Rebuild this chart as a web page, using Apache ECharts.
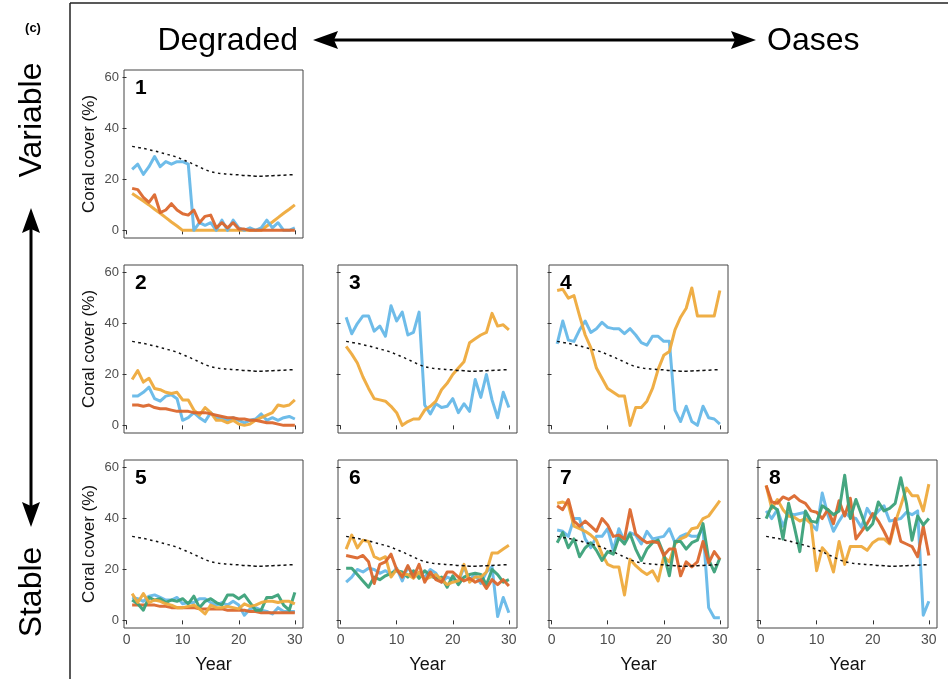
<!DOCTYPE html>
<html>
<head>
<meta charset="utf-8">
<script src="https://cdn.jsdelivr.net/npm/echarts@6/dist/echarts.min.js"></script>
<style>
    html, body { margin: 0; padding: 0; background: #fff; }
    #chart { width: 948px; height: 679px; }
</style>
</head>
<body>
<div id="chart"></div>
<script>
    // years of simulation
    var years = [1, 2, 3, 4, 5, 6, 7, 8, 9, 10, 11, 12, 13, 14, 15, 16, 17, 18, 19, 20, 21, 22, 23, 24, 25, 26, 27, 28, 29, 30];
    var yTicks = [0, 20, 40, 60];
    var xTicks = [0, 10, 20, 30];

    // dashed reference line (same in all panels)
    var refMean = [33, 32.6, 32.2, 31.7, 31.2, 30.6, 30, 29.4, 28.7, 27.8, 26.9, 25.9, 24.9, 23.9, 23.1, 22.6, 22.3, 22.1, 21.9, 21.8, 21.6, 21.5, 21.3, 21.3, 21.4, 21.5, 21.6, 21.7, 21.8, 21.9];

    // panel 1
    var p1Blue = [24, 26, 22, 25, 29, 25, 27, 26, 27, 27, 26, 0, 3, 2, 3, 0, 4, 0, 4, 1, 0, 1, 0, 1, 4, 1, 3, 0, 0, 1];
    var p1Orange = [14.5, 13, 11.5, 10, 8.3, 6.7, 5, 3.3, 1.7, 0, 0, 0, 0, 0, 0, 0, 0, 0, 0, 0, 0, 0, 0, 0, 1.7, 3.3, 5, 6.7, 8.3, 10];
    var p1Red = [16.5, 16, 13, 11, 14, 7, 8, 10.5, 8, 6.5, 6, 8, 3, 5.5, 6, 1, 3, 1, 3, 0.5, 0.5, 0, 0, 0, 0, 0, 0, 0, 0, 0];

    // panel 2
    var p2Blue = [11.5, 11.5, 13, 15, 10.5, 9.5, 11.5, 12, 10.5, 2, 3, 5, 3, 1.5, 5, 3, 3, 2, 3, 2, 1, 2, 2.5, 4.5, 2, 3, 2, 3, 3.5, 2.5];
    var p2Orange = [18, 21.5, 17, 18.5, 14.5, 14, 13, 12.5, 13, 10, 10, 6, 4, 7, 5, 2, 2, 1, 2, 0.5, 0, 0.5, 2, 3, 4, 5, 8, 7.5, 8, 10];
    var p2Red = [8, 8, 7.5, 8, 7, 6.5, 6.5, 6, 5.5, 5.5, 5.5, 5, 5, 5, 4.5, 4, 3.5, 3, 3, 2.5, 2.5, 2, 2, 1.5, 1, 1, 0.5, 0, 0, 0];

    // panel 3
    var p3Blue = [42.5, 36, 40, 43, 43, 37, 39, 35, 47, 41, 44.5, 35.5, 36.5, 44.5, 8, 4.5, 8.5, 7, 7.5, 10.5, 5, 8.5, 5.5, 18, 11, 20, 10, 3, 13, 7];
    var p3Orange = [31, 28, 24.5, 19, 14.5, 10.5, 10, 9.5, 7.5, 5, 0, 1.5, 2.5, 2.5, 6, 7.5, 9.5, 14, 16.5, 20, 22.5, 25, 32.5, 34, 35.5, 36.5, 44, 39, 39.5, 37.5];

    // panel 4
    var p4Blue = [32, 41, 33.5, 33, 37.5, 41, 36.5, 38, 40.5, 38.5, 38, 38, 36, 38, 35.5, 32.5, 31.5, 35, 35, 33, 33, 6, 1.5, 7.5, 1.5, 0, 7.5, 3, 2.5, 0.5];
    var p4Orange = [53, 53.5, 50, 51, 43, 35.5, 30.5, 22.5, 18.5, 14.5, 13, 11.5, 11.5, 0, 7, 7, 9.5, 14.5, 22, 27.5, 29, 37.5, 42.5, 46, 54, 43, 43, 43, 43, 53];

    // panel 5
    var p5Blue = [9, 8.5, 7.5, 9.5, 10, 9, 8, 8, 9, 6.5, 7, 7, 8.5, 8.5, 7, 6, 7, 6, 7.5, 6, 2, 4.5, 5, 4, 3.5, 2.5, 5, 3.5, 3.5, 3.5];
    var p5Orange = [10.5, 7, 10.5, 7, 8, 7.5, 6.5, 6, 5, 5, 5.5, 6, 4.5, 2.5, 6, 5, 5, 5.5, 5, 4.5, 6.5, 5.5, 6, 7, 7.5, 7.5, 7, 7.5, 7.5, 6.5];
    var p5Green = [8, 6.5, 4, 9, 8, 8.5, 7, 8, 7.5, 8.5, 6.5, 9.5, 5, 7.5, 8.5, 7, 6, 10, 10, 8.5, 10, 7, 4, 4, 9, 9, 10, 6, 4, 11];
    var p5Red = [6, 6, 6, 6, 6, 5.5, 5.5, 5, 5, 5, 5, 5, 4.5, 4.5, 4.5, 4.5, 4.5, 4, 4, 4, 4, 3.5, 3.5, 3, 3, 3, 3, 3, 3, 3];

    // panel 6
    var p6Blue = [15, 17, 20, 19, 20.5, 20, 18.5, 19.5, 18, 20.5, 15.5, 21, 17.5, 18, 17, 20, 18.5, 15, 17, 16, 15, 21, 16, 18, 14.5, 19, 21, 1.5, 9, 3];
    var p6Orange = [28, 33.5, 28.5, 31.5, 31, 25, 24, 25, 17, 20, 18, 18, 16.5, 19, 16, 17, 18, 16, 14, 15, 15.5, 22, 15, 17, 17, 19, 26.5, 26.5, 28, 29.5];
    var p6Green = [20.5, 20.5, 18, 15.5, 13, 17, 16, 17.5, 18.5, 19.5, 19, 17, 19.5, 16.5, 19.5, 17.5, 16.5, 17, 13, 17.5, 14, 17, 18, 18.5, 18, 14, 20, 18, 15, 16];
    var p6Red = [25.5, 25, 24.5, 25.5, 23, 14.5, 22, 23, 26, 20, 17, 21.5, 17, 22, 15, 19, 16, 15, 19, 19, 17, 15.5, 16.5, 15, 16, 12.5, 16, 14, 16, 13.5];

    // panel 7
    var p7Blue = [35.5, 35, 33, 40, 40, 32, 28.5, 33, 33, 36, 27.5, 36, 31, 34.5, 33.5, 30, 35, 32, 32.5, 33, 36, 30.5, 33, 34, 33, 33, 36, 5, 1, 1];
    var p7Orange = [46, 46.5, 45.5, 37, 36, 35, 33.5, 31.5, 26, 22, 21, 21, 10, 24, 21.5, 19.5, 18, 19.5, 15.5, 25, 23, 30, 32, 33, 36, 36.5, 40, 41, 44, 47];
    var p7Green = [30.5, 34.5, 28.5, 32, 25, 28.5, 30.5, 27.5, 23.5, 27, 26, 32.5, 30, 34, 28, 23.5, 28, 30.5, 31.5, 26, 17.5, 31, 31, 28, 30.5, 31.5, 38, 24, 19, 24.5];
    var p7Red = [45, 43.5, 47.5, 39, 37, 39, 37, 35, 40, 37.5, 33, 33.5, 32, 43.5, 34, 32, 30.5, 31, 30.5, 25.5, 28, 28, 17.5, 23, 21, 23, 31, 22.5, 27, 24];

    // panel 8
    var p8Blue = [43, 40, 43.5, 37, 42, 41.5, 42, 42.5, 38, 35.5, 50, 41.5, 35, 39, 42.5, 40.5, 40, 36.5, 44, 40.5, 43, 45, 39, 39.5, 40, 42.5, 41.5, 43, 2, 7.5];
    var p8Orange = [53, 44, 47.5, 43.5, 41, 40.5, 39, 40, 38, 19.5, 28.5, 26, 19, 31, 22, 29, 29, 29, 27.5, 30.5, 32, 32, 30, 38.5, 45, 52, 49, 49, 43, 53.5];
    var p8Green = [40, 45, 43.5, 32, 46, 37, 27, 43, 39, 38.5, 45, 43.5, 41.5, 43, 57, 40, 47.5, 41.5, 35.5, 38, 46.5, 43, 44, 46, 56, 46, 31.5, 41, 37.5, 40];
    var p8Red = [53, 46.5, 46, 48.5, 47.5, 49, 47, 46, 43, 42.5, 40, 43.5, 38, 47, 41, 48, 32, 35, 38, 42, 39, 35, 30.5, 40, 31, 30, 29, 25, 37, 25.5];

    var colBlue = '#66B8E8';
    var colOrange = '#EEAA3C';
    var colGreen = '#3BA179';
    var colRed = '#DB672D';
    var fontFam = 'Liberation Sans, Arial, sans-serif';

    var panels = [
        {num: '1', left: 124, top: 70, lines: [[p1Orange, colOrange], [p1Blue, colBlue], [p1Red, colRed]]},
        {num: '2', left: 124, top: 265, lines: [[p2Blue, colBlue], [p2Orange, colOrange], [p2Red, colRed]]},
        {num: '3', left: 338, top: 265, lines: [[p3Blue, colBlue], [p3Orange, colOrange]]},
        {num: '4', left: 549, top: 265, lines: [[p4Blue, colBlue], [p4Orange, colOrange]]},
        {num: '5', left: 124, top: 460, lines: [[p5Blue, colBlue], [p5Red, colRed], [p5Green, colGreen], [p5Orange, colOrange]]},
        {num: '6', left: 338, top: 460, lines: [[p6Blue, colBlue], [p6Green, colGreen], [p6Orange, colOrange], [p6Red, colRed]]},
        {num: '7', left: 549, top: 460, lines: [[p7Blue, colBlue], [p7Orange, colOrange], [p7Green, colGreen], [p7Red, colRed]]},
        {num: '8', left: 758, top: 460, lines: [[p8Blue, colBlue], [p8Orange, colOrange], [p8Red, colRed], [p8Green, colGreen]]}
    ];
    var panelW = 179;
    var panelH = 168;

    function pairs(vals) {
        var out = [];
        for (var i = 0; i < years.length; i++) {
            out.push([years[i], vals[i]]);
        }
        return out;
    }

    var grids = [], xAxes = [], yAxes = [], series = [];
    var graphics = [];

    panels.forEach(function(p, i) {
        var firstCol = p.left == 124;
        var lastRow = p.top == 460;
        grids.push({
            left: p.left, top: p.top, width: panelW, height: panelH,
            show: true, borderColor: '#444', borderWidth: 1, backgroundColor: '#fff'
        });
        xAxes.push({
            type: 'value', gridIndex: i, min: -0.45, max: 31.45,
            splitLine: {show: false},
            axisLine: {show: false},
            axisTick: {show: true, customValues: xTicks, length: 4, lineStyle: {color: '#333'}},
            axisLabel: {show: lastRow, customValues: xTicks, margin: 5, fontSize: 14, color: '#4d4d4d', fontFamily: fontFam},
            name: lastRow ? 'Year' : '',
            nameLocation: 'middle', nameGap: 28,
            nameTextStyle: {fontSize: 18, color: '#111', fontFamily: fontFam}
        });
        yAxes.push({
            type: 'value', gridIndex: i, min: -3, max: 63,
            splitLine: {show: false},
            axisLine: {show: false},
            axisTick: {show: true, customValues: yTicks, length: 4, lineStyle: {color: '#333'}},
            axisLabel: {show: firstCol, customValues: yTicks, margin: 5, fontSize: 13, color: '#4d4d4d', fontFamily: fontFam},
            name: firstCol ? 'Coral cover (%)' : '',
            nameLocation: 'middle', nameGap: 26,
            nameTextStyle: {fontSize: 17, color: '#111', fontFamily: fontFam}
        });
        p.lines.forEach(function(l) {
            series.push({
                type: 'line', xAxisIndex: i, yAxisIndex: i,
                data: pairs(l[0]),
                showSymbol: false, silent: true,
                lineStyle: {color: l[1], width: 3, opacity: 0.95, join: 'round'},
                z: 2
            });
        });
        series.push({
            type: 'line', xAxisIndex: i, yAxisIndex: i,
            data: pairs(refMean),
            showSymbol: false, silent: true, smooth: true,
            lineStyle: {color: '#111', width: 1.5, type: [3, 3]},
            z: 3
        });
        graphics.push({
            type: 'text', left: p.left + 11, top: p.top + 8, z: 10,
            style: {text: p.num, font: 'bold 21px ' + fontFam, fill: '#000'}
        });
    });

    // frame, header and arrows
    graphics.push(
        {type: 'line', shape: {x1: 70, y1: 3, x2: 70, y2: 679}, style: {stroke: '#222', lineWidth: 1.5}},
        {type: 'line', shape: {x1: 70, y1: 3, x2: 948, y2: 3}, style: {stroke: '#222', lineWidth: 1.5}},
        {type: 'text', x: 33, y: 28, style: {text: '(c)', font: 'bold 13px ' + fontFam, fill: '#000', align: 'center', verticalAlign: 'middle'}},
        {type: 'text', x: 298, y: 41, style: {text: 'Degraded', font: '32px ' + fontFam, fill: '#000', align: 'right', verticalAlign: 'middle'}},
        {type: 'text', x: 767, y: 41, style: {text: 'Oases', font: '32px ' + fontFam, fill: '#000', align: 'left', verticalAlign: 'middle'}},
        {type: 'line', shape: {x1: 330, y1: 40, x2: 740, y2: 40}, style: {stroke: '#000', lineWidth: 3}},
        {type: 'polygon', shape: {points: [[313, 40], [338, 31], [334, 40], [338, 49]]}, style: {fill: '#000'}},
        {type: 'polygon', shape: {points: [[756, 40], [731, 31], [735, 40], [731, 49]]}, style: {fill: '#000'}},
        {type: 'text', x: 32, y: 120, rotation: Math.PI / 2, style: {text: 'Variable', font: '32px ' + fontFam, fill: '#000', align: 'center', verticalAlign: 'middle'}},
        {type: 'text', x: 32, y: 592, rotation: Math.PI / 2, style: {text: 'Stable', font: '32px ' + fontFam, fill: '#000', align: 'center', verticalAlign: 'middle'}},
        {type: 'line', shape: {x1: 31, y1: 225, x2: 31, y2: 510}, style: {stroke: '#000', lineWidth: 3}},
        {type: 'polygon', shape: {points: [[31, 208], [22, 233], [31, 229], [40, 233]]}, style: {fill: '#000'}},
        {type: 'polygon', shape: {points: [[31, 527], [22, 502], [31, 506], [40, 502]]}, style: {fill: '#000'}}
    );

    var chart = echarts.init(document.getElementById('chart'), null, {renderer: 'canvas'});
    chart.setOption({
        animation: false,
        backgroundColor: '#fff',
        textStyle: {fontFamily: fontFam},
        grid: grids,
        xAxis: xAxes,
        yAxis: yAxes,
        series: series,
        graphic: graphics
    });
</script>
</body>
</html>
